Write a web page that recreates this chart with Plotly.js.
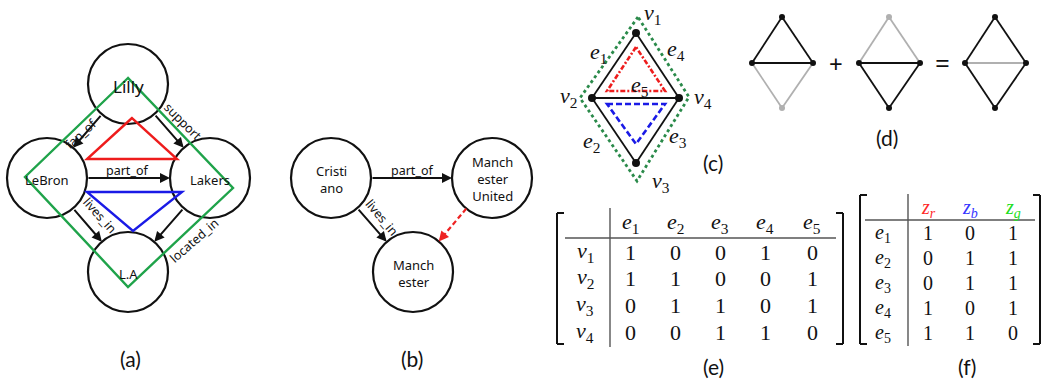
<!DOCTYPE html>
<html>
<head>
<meta charset="utf-8">
<script src="https://cdn.plot.ly/plotly-3.0.1.min.js"></script>
<style>
  html, body { margin: 0; padding: 0; background: #fff; }
  #fig { width: 1043px; height: 381px; }
</style>
</head>
<body>
<div id="fig"></div>
<script>
// ---------- data ----------
// (a) knowledge graph
const kgNodes = ['Lilly', 'LeBron', 'Lakers', 'L.A'];
const kgEdges = [
  ['Lilly', 'LeBron', 'fan_of'],
  ['Lilly', 'Lakers', 'support'],
  ['LeBron', 'Lakers', 'part_of'],
  ['LeBron', 'L.A', 'lives_in'],
  ['Lakers', 'L.A', 'located_in']
];
// (b) graph with a missing link
const kgNodes2 = ['Cristiano', 'Manchester United', 'Manchester'];
const kgNodeText2 = ['Cristi<br>ano', 'Manch<br>ester<br>United', 'Manch<br>ester'];
const kgEdges2 = [
  ['Cristiano', 'Manchester United', 'part_of'],
  ['Cristiano', 'Manchester', 'lives_in']
];
const missingEdge = ['Manchester United', 'Manchester'];
// (c) simple graph: vertex pairs joined by each edge
const vertexNames = ['v1', 'v2', 'v3', 'v4'];
const edgeNames = ['e1', 'e2', 'e3', 'e4', 'e5'];
const edgeEnds = [[0, 1], [1, 2], [2, 3], [0, 3], [1, 3]];
// (e) incidence matrix as printed: rows = vertices, columns = edges
const incidence = [
  [1, 0, 0, 1, 0],
  [1, 1, 0, 0, 1],
  [0, 1, 1, 0, 1],
  [0, 0, 1, 1, 0]
];
// (d)/(f) cycle vectors: rows = edges, columns = cycles
const cycleNames = ['z_r', 'z_b', 'z_g'];
const cycleVectors = [
  [1, 0, 1],
  [0, 1, 1],
  [0, 1, 1],
  [1, 0, 1],
  [1, 1, 0]
];
const panelLabels = ['(a)', '(b)', '(c)', '(d)', '(e)', '(f)'];

// ---------- geometry & styles ----------
const W = 1043, H = 381, R = 40;
const nodePos = { 'Lilly': [128, 84], 'LeBron': [47, 178], 'Lakers': [210, 178], 'L.A': [128, 272] };
const nodeFont = { 'Lilly': 17 };
const edgeLabelPos = {
  'fan_of': [80, 134, -42], 'support': [183, 121, 45], 'part_of': [127, 170, 0],
  'lives_in': [100, 215, 48], 'located_in': [194, 240, -41]
};
const nodePos2 = { 'Cristiano': [331, 178], 'Manchester United': [492, 178], 'Manchester': [413, 272] };
const edgeLabelPos2 = { 'part_of': [412, 170, 0], 'lives_in': [382, 217, 50] };
const vertPos = [[636, 33], [592, 98], [636, 163], [679, 98]];
const vertLabelPos = [[652, 14], [568, 97], [661, 182], [703, 98]];
const edgeLabelPosC = [[598, 53], [591, 142], [678, 137], [676, 50], [640, 86]];
const dCenters = [[782, 63], [889, 63], [995, 63]];
const dOffsets = [[0, -46], [-30, 0], [0, 45], [31, 0]];
const panelLabelPos = [[130, 358], [412, 358], [713, 162], [887, 137], [713, 366], [967, 366]];
const eCols = [630, 675, 720, 765, 812], eRows = [252, 278, 305, 332], eHead = 223, eRowLab = 585;
const fCols = [928, 970, 1013], fRows = [233, 258, 283, 308, 333], fHead = 208, fRowLab = 883;
const cycleColors = ['#ff2a2a', '#3535ff', '#22dd22'];
const INK = '#111';
const GREY = '#b0b0b0';
const sans = 'Noto Sans, Open Sans, sans-serif';
const serif = 'Liberation Serif, DejaVu Serif, serif';

const shapes = [], annotations = [], traces = [];

function math(name) {
  const m = name.match(/^([a-z])_?(.+)$/);
  return '<i>' + m[1] + '</i><sub>' + (isNaN(+m[2]) ? '<i>' + m[2] + '</i>' : m[2]) + '</sub>';
}
function text(x, y, t, size, family, color, angle) {
  annotations.push({ x: x, y: y, xref: 'x', yref: 'y', text: t, showarrow: false,
    font: { family: family, size: size, color: color || INK }, textangle: angle || 0,
    xanchor: 'center', yanchor: 'middle' });
}
function seg(x0, y0, x1, y1, color, width, dash) {
  shapes.push({ type: 'line', xref: 'x', yref: 'y', x0: x0, y0: y0, x1: x1, y1: y1,
    line: { color: color, width: width, dash: dash || 'solid' } });
}
function poly(pts, color, width, dash) {
  const d = 'M' + pts.map(p => p[0] + ',' + p[1]).join(' L') + ' Z';
  shapes.push({ type: 'path', xref: 'x', yref: 'y', path: d, line: { color: color, width: width, dash: dash || 'solid' } });
}
function circle(c) {
  shapes.push({ type: 'circle', xref: 'x', yref: 'y', x0: c[0] - R, x1: c[0] + R, y0: c[1] - R, y1: c[1] + R,
    line: { color: INK, width: 2.2 } });
}
function rimPoints(a, b) {
  const dx = b[0] - a[0], dy = b[1] - a[1], L = Math.hypot(dx, dy);
  const ux = dx / L, uy = dy / L;
  return [[a[0] + ux * R, a[1] + uy * R], [b[0] - ux * R, b[1] - uy * R]];
}
function arrow(s, e, color) {
  annotations.push({ x: e[0], y: e[1], ax: s[0], ay: s[1], xref: 'x', yref: 'y', axref: 'x', ayref: 'y',
    text: '', showarrow: true, arrowhead: 2, arrowsize: 1, arrowwidth: 2, arrowcolor: color || INK, standoff: 0 });
}

// ---------- (a) ----------
kgNodes.forEach(n => { circle(nodePos[n]); text(nodePos[n][0], nodePos[n][1] + 2, n, nodeFont[n] || 13, sans); });
kgEdges.forEach(([a, b, lab]) => {
  const [s, e] = rimPoints(nodePos[a], nodePos[b]);
  arrow(s, e);
  const p = edgeLabelPos[lab];
  text(p[0], p[1], lab, 12.5, sans, INK, p[2]);
});
// cycles in the knowledge graph
poly([[132, 118], [87, 159], [177, 159]], '#ee1c1c', 2.4);
poly([[87, 192], [182, 192], [133, 231]], '#1a1ae6', 2.4);
poly([[128, 78], [25, 177], [128, 287], [233, 188]], '#1fa34a', 2.4);

// ---------- (b) ----------
kgNodes2.forEach((n, i) => { circle(nodePos2[n]); text(nodePos2[n][0], nodePos2[n][1] + 1, kgNodeText2[i], 13, sans); });
kgEdges2.forEach(([a, b, lab]) => {
  const [s, e] = rimPoints(nodePos2[a], nodePos2[b]);
  arrow(s, e);
  const p = edgeLabelPos2[lab];
  text(p[0], p[1], lab, 12.5, sans, INK, p[2]);
});
(function () {
  const [s, e] = rimPoints(nodePos2[missingEdge[0]], nodePos2[missingEdge[1]]);
  const k = 0.8;
  const m = [s[0] + (e[0] - s[0]) * k, s[1] + (e[1] - s[1]) * k];
  seg(s[0], s[1], m[0], m[1], '#ee2222', 2.2, '5px,3px');
  arrow(m, e, '#ee2222');
})();

// ---------- (c) ----------
edgeNames.forEach((en, j) => {
  const ends = edgeEnds[j];
  traces.push({ type: 'scatter', mode: 'lines', hoverinfo: 'skip',
    x: ends.map(i => vertPos[i][0]), y: ends.map(i => vertPos[i][1]),
    line: { color: INK, width: 1.8 } });
  text(edgeLabelPosC[j][0], edgeLabelPosC[j][1], math(en), 22, serif);
});
traces.push({ type: 'scatter', mode: 'markers', hoverinfo: 'skip',
  x: vertPos.map(p => p[0]), y: vertPos.map(p => p[1]), marker: { color: INK, size: 8 } });
vertexNames.forEach((vn, i) => text(vertLabelPos[i][0], vertLabelPos[i][1], math(vn), 22, serif));
poly([[636, 47], [607, 91], [665, 91]], '#ee1c1c', 2.6, '5px,2px,2px,2px');
poly([[607, 104], [665, 104], [636, 144]], '#1a1ae6', 2.6, '6px,3px');
poly([[638, 17], [580, 98], [637, 181], [689, 97]], '#2a8a4a', 2.8, '3px,3px');

// ---------- (d) ----------
cycleNames.forEach((cn, k) => {
  const c = dCenters[k];
  const pts = dOffsets.map(o => [c[0] + o[0], c[1] + o[1]]);
  const used = [false, false, false, false];
  const segs = edgeEnds.map((ends, j) => {
    const on = cycleVectors[j][k] === 1;
    if (on) ends.forEach(i => used[i] = true);
    return { on: on, ends: ends };
  });
  // grey edges first, black on top
  segs.sort((a, b) => a.on - b.on).forEach(o => {
    traces.push({ type: 'scatter', mode: 'lines', hoverinfo: 'skip',
      x: o.ends.map(i => pts[i][0]), y: o.ends.map(i => pts[i][1]),
      line: { color: o.on ? INK : GREY, width: 1.8 } });
  });
  traces.push({ type: 'scatter', mode: 'markers', hoverinfo: 'skip',
    x: pts.map(p => p[0]), y: pts.map(p => p[1]),
    marker: { color: used.map(u => u ? INK : GREY), size: 6 } });
});
text(836, 63, '+', 24, sans);
text(942, 63, '=', 26, sans);

// ---------- (e) ----------
function bracket(x, y0, y1, dir) {
  seg(x, y0, x, y1, INK, 2);
  seg(x, y0, x + dir * 7, y0, INK, 2);
  seg(x, y1, x + dir * 7, y1, INK, 2);
}
bracket(557, 213, 344, 1);
bracket(843, 213, 344, -1);
seg(610, 208, 610, 347, '#555', 1.4);
seg(565, 238, 836, 238, '#555', 1.4);
edgeNames.forEach((en, j) => text(eCols[j], eHead, math(en), 22, serif));
vertexNames.forEach((vn, i) => {
  text(eRowLab, eRows[i], math(vn), 22, serif);
  incidence[i].forEach((v, j) => text(eCols[j], eRows[i], String(v), 22, serif));
});

// ---------- (f) ----------
bracket(860, 195, 344, 1);
bracket(1040, 195, 344, -1);
seg(908, 194, 908, 346, '#555', 1.4);
seg(865, 220, 1035, 220, '#555', 1.4);
cycleNames.forEach((cn, k) => text(fCols[k], fHead, math(cn), 20, serif, cycleColors[k]));
edgeNames.forEach((en, j) => {
  text(fRowLab, fRows[j], math(en), 20, serif);
  cycleVectors[j].forEach((v, k) => text(fCols[k], fRows[j], String(v), 20, serif));
});

// ---------- panel labels ----------
panelLabels.forEach((l, i) => text(panelLabelPos[i][0], panelLabelPos[i][1], l, 21, 'Lato, Open Sans, sans-serif', '#111'));

const layout = {
  width: W, height: H, margin: { l: 0, r: 0, t: 0, b: 0 },
  paper_bgcolor: '#fff', plot_bgcolor: '#fff', showlegend: false,
  xaxis: { range: [0, W], visible: false, fixedrange: true },
  yaxis: { range: [H, 0], visible: false, fixedrange: true },
  shapes: shapes, annotations: annotations
};
Plotly.newPlot('fig', traces, layout, { staticPlot: true, displayModeBar: false });
</script>
</body>
</html>
